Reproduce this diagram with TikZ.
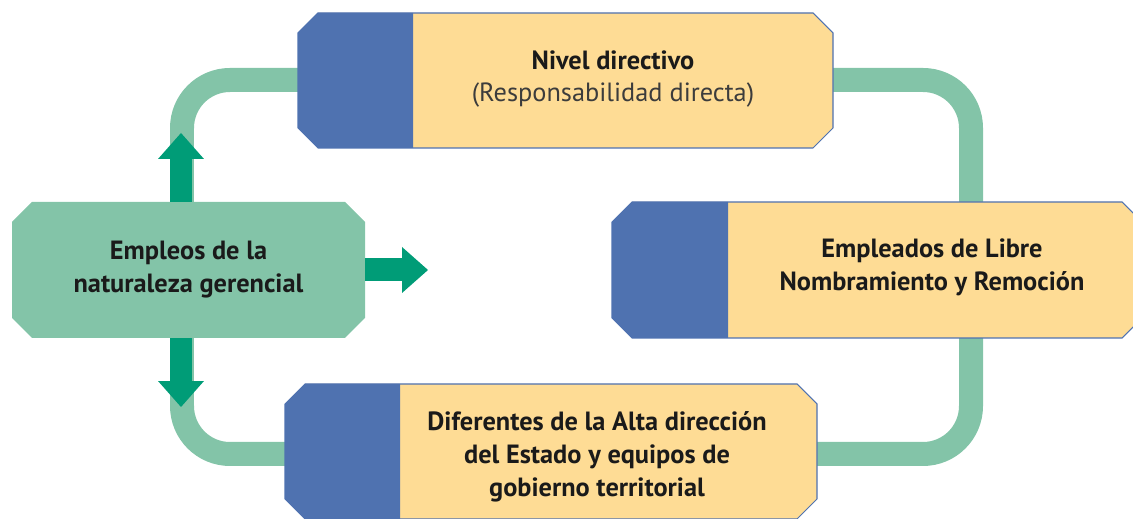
\documentclass[tikz,border=0pt]{standalone}
\usepackage{fontspec}
\setmainfont{PT Sans}
\usepackage{tikz}
\usetikzlibrary{arrows.meta,positioning,calc}

\definecolor{cardblue}{HTML}{4F72B0}
\definecolor{cardyellow}{HTML}{FEDC95}
\definecolor{bandgreen}{HTML}{83C4A8}
\definecolor{arrowgreen}{HTML}{009C77}
\definecolor{inkdark}{HTML}{1A1A1A}
\definecolor{subgray}{HTML}{3C3C3C}

\begin{document}
\begin{tikzpicture}[
    x=0.02cm, y=-0.02cm,
    band/.style={draw=bandgreen, line width=0.48cm, rounded corners=0.96cm},
    cardtext/.style={align=center, text=inkdark, font=\fontsize{15}{18.7}\selectfont\bfseries},
    hub/.style={inner sep=0pt, minimum width=7.06cm, minimum height=2.72cm, align=center,
        text=inkdark, font=\fontsize{15}{18.7}\selectfont\bfseries},
    fat/.style={draw=arrowgreen, line width=0.46cm, -{Triangle[width=0.92cm, length=0.52cm, line width=0pt]}}
]
    \useasboundingbox (0,0) rectangle (1133,519);

    % loop behind the cards
    \coordinate (loopNW) at (182,80);
    \coordinate (loopSE) at (971,454);
    \draw[band] (loopNW) rectangle (loopSE);

    % central block
    \fill[bandgreen] (32,202) -- (345,202) -- (365,222) -- (365,318) -- (345,338)
        -- (32,338) -- (12,318) -- (12,222) -- cycle;
    \node[hub] (hub) at (188.5,270) {Empleos de la\\naturaleza gerencial};
    \coordinate (upend) at (181,133);
    \coordinate (downend) at (181,407);
    \coordinate (rightend) at (428,270);
    \draw[fat] (hub.north -| upend) -- (upend);
    \draw[fat] (hub.south -| downend) -- (downend);
    \draw[fat] (hub.east |- rightend) -- (rightend);

    % cards: left, top, right, bottom, end of blue strip
    \foreach \xa/\ya/\xb/\yb/\xs in {298/13/833/148/413, 612/202/1142/338/728, 285/384/817/519/400} {
        \fill[cardyellow] (\xa+20,\ya) -- (\xb-20,\ya) -- (\xb,\ya+20) -- (\xb,\yb-20)
            -- (\xb-20,\yb) -- (\xa+20,\yb) -- (\xa,\yb-20) -- (\xa,\ya+20) -- cycle;
        \fill[cardblue] (\xa+20,\ya) -- (\xs,\ya) -- (\xs,\yb) -- (\xa+20,\yb)
            -- (\xa,\yb-20) -- (\xa,\ya+20) -- cycle;
        \draw[cardblue, line width=0.6pt] (\xa+20,\ya) -- (\xb-20,\ya) -- (\xb,\ya+20) -- (\xb,\yb-20)
            -- (\xb-20,\yb) -- (\xa+20,\yb) -- (\xa,\yb-20) -- (\xa,\ya+20) -- cycle;
    }

    \node[cardtext] (directivo) at (613,79) {Nivel directivo\\{\mdseries\color{subgray}(Responsabilidad directa)}};
    \node[cardtext] (libre) at (932,267) {Empleados de Libre\\Nombramiento y Remoción};
    \node[cardtext] (alta) at (597,457) {Diferentes de la Alta dirección\\del Estado y equipos de\\gobierno territorial};
\end{tikzpicture}
\end{document}
